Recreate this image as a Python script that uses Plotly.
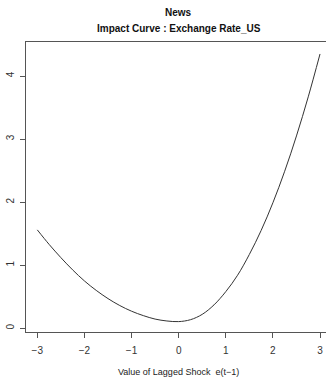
import plotly.graph_objects as go

# Values
shock = [-3.0, -2.75, -2.5, -2.25, -2.0, -1.75, -1.5, -1.25, -1.0, -0.75, -0.5, -0.25,
         0.0, 0.25, 0.5, 0.75, 1.0, 1.25, 1.5, 1.75, 2.0, 2.25, 2.5, 2.75, 3.0]
impact = [1.56, 1.33, 1.12, 0.925, 0.75, 0.60, 0.47, 0.36, 0.27, 0.20, 0.145, 0.115,
          0.105, 0.135, 0.22, 0.37, 0.58, 0.84, 1.17, 1.55, 1.99, 2.49, 3.05, 3.67, 4.35]
x_ticks = [-3, -2, -1, 0, 1, 2, 3]
y_ticks = [0, 1, 2, 3, 4]

title1 = "News"
title2 = "Impact Curve : Exchange Rate_US"
xlab = "Value of Lagged Shock\u00a0\u00a0e(t\u22121)"

FONT = "Liberation Sans, Arial, sans-serif"

fig = go.Figure()
fig.add_trace(go.Scatter(x=shock, y=impact, mode="lines",
                         line=dict(color="#333333", width=1, shape="spline"),
                         hoverinfo="skip", showlegend=False))

fig.update_layout(
    width=326, height=378,
    margin=dict(l=26, r=0, t=42, b=46),
    paper_bgcolor="white", plot_bgcolor="white",
    font=dict(family=FONT, size=10, color="#222222"),
    xaxis=dict(range=[-3.24, 3.127], tickvals=x_ticks,
               ticktext=[str(v).replace("-", "\u2212") for v in x_ticks],
               showgrid=False, zeroline=False,
               showline=True, linecolor="#555555", linewidth=1, mirror=True,
               ticks="outside", ticklen=5, tickcolor="#555555",
               ticklabelstandoff=4,
               tickfont=dict(family=FONT, size=10, color="#333333")),
    yaxis=dict(range=[-0.06, 4.54], tickvals=y_ticks,
               showgrid=False, zeroline=False,
               showline=True, linecolor="#555555", linewidth=1,
               ticks="outside", ticklen=5, tickcolor="#555555",
               tickangle=-90, ticklabelstandoff=2,
               tickfont=dict(family=FONT, size=10, color="#333333")),
    annotations=[
        dict(text="<b>" + title1 + "</b>", xref="x", yref="paper", x=0, y=1.1,
             showarrow=False, xanchor="center", yanchor="middle",
             font=dict(family=FONT, size=10, color="#111111")),
        dict(text="<b>" + title2 + "</b>", xref="x", yref="paper", x=0, y=1.048,
             showarrow=False, xanchor="center", yanchor="middle",
             font=dict(family=FONT, size=10, color="#111111")),
        dict(text=xlab, xref="x", yref="paper", x=0, y=-0.137,
             showarrow=False, xanchor="center", yanchor="middle",
             font=dict(family=FONT, size=9, color="#222222")),
    ],
)

fig.write_html("out.html")
